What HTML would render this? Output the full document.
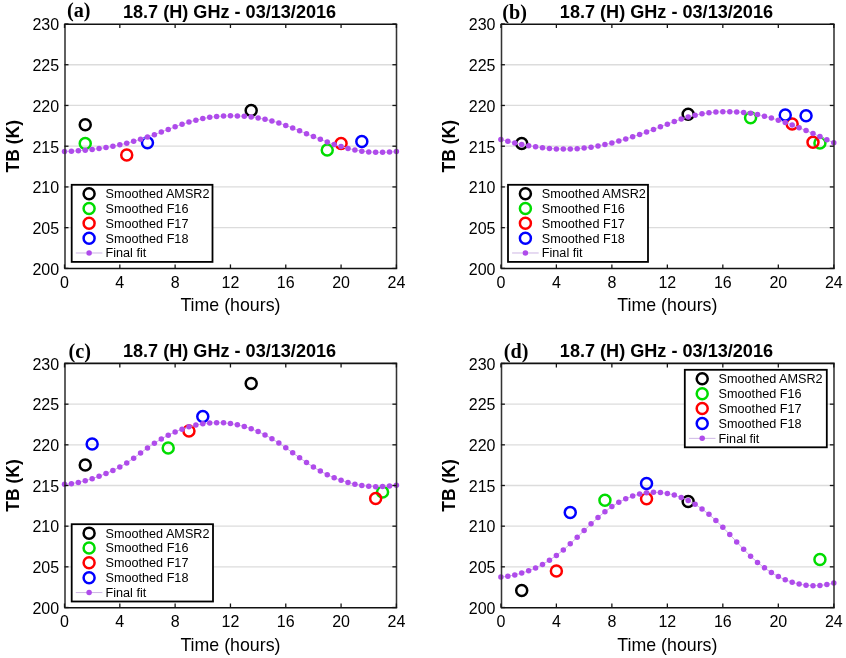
<!DOCTYPE html>
<html><head><meta charset="utf-8"><style>
html,body{margin:0;padding:0;background:#fff;}
svg{display:block;will-change:transform;}
text{font-family:"Liberation Sans", sans-serif;fill:#000;}
</style></head><body>
<svg width="846" height="658" viewBox="0 0 846 658">
<rect width="846" height="658" fill="#fff"/>
<line x1="64.5" y1="227.67" x2="396.4" y2="227.67" stroke="#DCDCDC" stroke-width="1.3"/>
<line x1="64.5" y1="186.93" x2="396.4" y2="186.93" stroke="#DCDCDC" stroke-width="1.3"/>
<line x1="64.5" y1="146.2" x2="396.4" y2="146.2" stroke="#DCDCDC" stroke-width="1.3"/>
<line x1="64.5" y1="105.47" x2="396.4" y2="105.47" stroke="#DCDCDC" stroke-width="1.3"/>
<line x1="64.5" y1="64.73" x2="396.4" y2="64.73" stroke="#DCDCDC" stroke-width="1.3"/>
<circle cx="85.24" cy="124.8" r="5.5" fill="none" stroke="#000000" stroke-width="2.5"/>
<circle cx="251.19" cy="110.4" r="5.5" fill="none" stroke="#000000" stroke-width="2.5"/>
<circle cx="85.24" cy="143.4" r="5.5" fill="none" stroke="#00DC00" stroke-width="2.5"/>
<circle cx="327.25" cy="150" r="5.5" fill="none" stroke="#00DC00" stroke-width="2.5"/>
<circle cx="126.73" cy="155.1" r="5.5" fill="none" stroke="#FF0000" stroke-width="2.5"/>
<circle cx="341.08" cy="143.4" r="5.5" fill="none" stroke="#FF0000" stroke-width="2.5"/>
<circle cx="147.47" cy="142.7" r="5.5" fill="none" stroke="#0000FF" stroke-width="2.5"/>
<circle cx="361.83" cy="141.4" r="5.5" fill="none" stroke="#0000FF" stroke-width="2.5"/>
<polyline points="64.5,151.42 71.41,151.17 78.33,150.77 85.24,150.21 92.16,149.48 99.07,148.58 105.99,147.51 112.9,146.26 119.82,144.82 126.73,143.19 133.65,141.36 140.56,139.32 147.47,137.08 154.39,134.64 161.3,132.06 168.22,129.43 175.13,126.82 182.05,124.34 188.96,122.08 195.88,120.15 202.79,118.56 209.71,117.35 216.62,116.5 223.54,116.01 230.45,115.83 237.36,115.94 244.28,116.33 251.19,117.01 258.11,117.99 265.02,119.29 271.94,120.96 278.85,123.02 285.77,125.42 292.68,128.05 299.6,130.85 306.51,133.72 313.42,136.58 320.34,139.36 327.25,141.99 334.17,144.42 341.08,146.6 348,148.48 354.91,150 361.83,151.13 368.74,151.88 375.66,152.28 382.57,152.34 389.49,152.11 396.4,151.61" fill="none" stroke="rgb(205,182,228)" stroke-width="1"/>
<circle cx="64.5" cy="151.42" r="2.75" fill="rgb(175,75,235)"/>
<circle cx="71.41" cy="151.17" r="2.75" fill="rgb(175,75,235)"/>
<circle cx="78.33" cy="150.77" r="2.75" fill="rgb(175,75,235)"/>
<circle cx="85.24" cy="150.21" r="2.75" fill="rgb(175,75,235)"/>
<circle cx="92.16" cy="149.48" r="2.75" fill="rgb(175,75,235)"/>
<circle cx="99.07" cy="148.58" r="2.75" fill="rgb(175,75,235)"/>
<circle cx="105.99" cy="147.51" r="2.75" fill="rgb(175,75,235)"/>
<circle cx="112.9" cy="146.26" r="2.75" fill="rgb(175,75,235)"/>
<circle cx="119.82" cy="144.82" r="2.75" fill="rgb(175,75,235)"/>
<circle cx="126.73" cy="143.19" r="2.75" fill="rgb(175,75,235)"/>
<circle cx="133.65" cy="141.36" r="2.75" fill="rgb(175,75,235)"/>
<circle cx="140.56" cy="139.32" r="2.75" fill="rgb(175,75,235)"/>
<circle cx="147.47" cy="137.08" r="2.75" fill="rgb(175,75,235)"/>
<circle cx="154.39" cy="134.64" r="2.75" fill="rgb(175,75,235)"/>
<circle cx="161.3" cy="132.06" r="2.75" fill="rgb(175,75,235)"/>
<circle cx="168.22" cy="129.43" r="2.75" fill="rgb(175,75,235)"/>
<circle cx="175.13" cy="126.82" r="2.75" fill="rgb(175,75,235)"/>
<circle cx="182.05" cy="124.34" r="2.75" fill="rgb(175,75,235)"/>
<circle cx="188.96" cy="122.08" r="2.75" fill="rgb(175,75,235)"/>
<circle cx="195.88" cy="120.15" r="2.75" fill="rgb(175,75,235)"/>
<circle cx="202.79" cy="118.56" r="2.75" fill="rgb(175,75,235)"/>
<circle cx="209.71" cy="117.35" r="2.75" fill="rgb(175,75,235)"/>
<circle cx="216.62" cy="116.5" r="2.75" fill="rgb(175,75,235)"/>
<circle cx="223.54" cy="116.01" r="2.75" fill="rgb(175,75,235)"/>
<circle cx="230.45" cy="115.83" r="2.75" fill="rgb(175,75,235)"/>
<circle cx="237.36" cy="115.94" r="2.75" fill="rgb(175,75,235)"/>
<circle cx="244.28" cy="116.33" r="2.75" fill="rgb(175,75,235)"/>
<circle cx="251.19" cy="117.01" r="2.75" fill="rgb(175,75,235)"/>
<circle cx="258.11" cy="117.99" r="2.75" fill="rgb(175,75,235)"/>
<circle cx="265.02" cy="119.29" r="2.75" fill="rgb(175,75,235)"/>
<circle cx="271.94" cy="120.96" r="2.75" fill="rgb(175,75,235)"/>
<circle cx="278.85" cy="123.02" r="2.75" fill="rgb(175,75,235)"/>
<circle cx="285.77" cy="125.42" r="2.75" fill="rgb(175,75,235)"/>
<circle cx="292.68" cy="128.05" r="2.75" fill="rgb(175,75,235)"/>
<circle cx="299.6" cy="130.85" r="2.75" fill="rgb(175,75,235)"/>
<circle cx="306.51" cy="133.72" r="2.75" fill="rgb(175,75,235)"/>
<circle cx="313.42" cy="136.58" r="2.75" fill="rgb(175,75,235)"/>
<circle cx="320.34" cy="139.36" r="2.75" fill="rgb(175,75,235)"/>
<circle cx="327.25" cy="141.99" r="2.75" fill="rgb(175,75,235)"/>
<circle cx="334.17" cy="144.42" r="2.75" fill="rgb(175,75,235)"/>
<circle cx="341.08" cy="146.6" r="2.75" fill="rgb(175,75,235)"/>
<circle cx="348" cy="148.48" r="2.75" fill="rgb(175,75,235)"/>
<circle cx="354.91" cy="150" r="2.75" fill="rgb(175,75,235)"/>
<circle cx="361.83" cy="151.13" r="2.75" fill="rgb(175,75,235)"/>
<circle cx="368.74" cy="151.88" r="2.75" fill="rgb(175,75,235)"/>
<circle cx="375.66" cy="152.28" r="2.75" fill="rgb(175,75,235)"/>
<circle cx="382.57" cy="152.34" r="2.75" fill="rgb(175,75,235)"/>
<circle cx="389.49" cy="152.11" r="2.75" fill="rgb(175,75,235)"/>
<circle cx="396.4" cy="151.61" r="2.75" fill="rgb(175,75,235)"/>
<line x1="65" y1="24.3" x2="65" y2="268.5" stroke="#333" stroke-width="1.55"/>
<line x1="396.5" y1="24.3" x2="396.5" y2="268.5" stroke="#333" stroke-width="1.55"/>
<line x1="64.3" y1="24.3" x2="397.2" y2="24.3" stroke="#111" stroke-width="1.6"/>
<line x1="64.3" y1="268.5" x2="397.2" y2="268.5" stroke="#111" stroke-width="1.6"/>
<line x1="64.5" y1="268.4" x2="64.5" y2="264.4" stroke="#151515" stroke-width="1.3"/>
<line x1="64.5" y1="24" x2="64.5" y2="28" stroke="#151515" stroke-width="1.3"/>
<text x="64.5" y="288.2" text-anchor="middle" font-size="16">0</text>
<line x1="119.82" y1="268.4" x2="119.82" y2="264.4" stroke="#151515" stroke-width="1.3"/>
<line x1="119.82" y1="24" x2="119.82" y2="28" stroke="#151515" stroke-width="1.3"/>
<text x="119.82" y="288.2" text-anchor="middle" font-size="16">4</text>
<line x1="175.13" y1="268.4" x2="175.13" y2="264.4" stroke="#151515" stroke-width="1.3"/>
<line x1="175.13" y1="24" x2="175.13" y2="28" stroke="#151515" stroke-width="1.3"/>
<text x="175.13" y="288.2" text-anchor="middle" font-size="16">8</text>
<line x1="230.45" y1="268.4" x2="230.45" y2="264.4" stroke="#151515" stroke-width="1.3"/>
<line x1="230.45" y1="24" x2="230.45" y2="28" stroke="#151515" stroke-width="1.3"/>
<text x="230.45" y="288.2" text-anchor="middle" font-size="16">12</text>
<line x1="285.77" y1="268.4" x2="285.77" y2="264.4" stroke="#151515" stroke-width="1.3"/>
<line x1="285.77" y1="24" x2="285.77" y2="28" stroke="#151515" stroke-width="1.3"/>
<text x="285.77" y="288.2" text-anchor="middle" font-size="16">16</text>
<line x1="341.08" y1="268.4" x2="341.08" y2="264.4" stroke="#151515" stroke-width="1.3"/>
<line x1="341.08" y1="24" x2="341.08" y2="28" stroke="#151515" stroke-width="1.3"/>
<text x="341.08" y="288.2" text-anchor="middle" font-size="16">20</text>
<line x1="396.4" y1="268.4" x2="396.4" y2="264.4" stroke="#151515" stroke-width="1.3"/>
<line x1="396.4" y1="24" x2="396.4" y2="28" stroke="#151515" stroke-width="1.3"/>
<text x="396.4" y="288.2" text-anchor="middle" font-size="16">24</text>
<line x1="64.5" y1="268.4" x2="68.5" y2="268.4" stroke="#151515" stroke-width="1.3"/>
<line x1="396.4" y1="268.4" x2="392.4" y2="268.4" stroke="#151515" stroke-width="1.3"/>
<text x="59.1" y="274.7" text-anchor="end" font-size="16">200</text>
<line x1="64.5" y1="227.67" x2="68.5" y2="227.67" stroke="#151515" stroke-width="1.3"/>
<line x1="396.4" y1="227.67" x2="392.4" y2="227.67" stroke="#151515" stroke-width="1.3"/>
<text x="59.1" y="233.97" text-anchor="end" font-size="16">205</text>
<line x1="64.5" y1="186.93" x2="68.5" y2="186.93" stroke="#151515" stroke-width="1.3"/>
<line x1="396.4" y1="186.93" x2="392.4" y2="186.93" stroke="#151515" stroke-width="1.3"/>
<text x="59.1" y="193.23" text-anchor="end" font-size="16">210</text>
<line x1="64.5" y1="146.2" x2="68.5" y2="146.2" stroke="#151515" stroke-width="1.3"/>
<line x1="396.4" y1="146.2" x2="392.4" y2="146.2" stroke="#151515" stroke-width="1.3"/>
<text x="59.1" y="152.5" text-anchor="end" font-size="16">215</text>
<line x1="64.5" y1="105.47" x2="68.5" y2="105.47" stroke="#151515" stroke-width="1.3"/>
<line x1="396.4" y1="105.47" x2="392.4" y2="105.47" stroke="#151515" stroke-width="1.3"/>
<text x="59.1" y="111.77" text-anchor="end" font-size="16">220</text>
<line x1="64.5" y1="64.73" x2="68.5" y2="64.73" stroke="#151515" stroke-width="1.3"/>
<line x1="396.4" y1="64.73" x2="392.4" y2="64.73" stroke="#151515" stroke-width="1.3"/>
<text x="59.1" y="71.03" text-anchor="end" font-size="16">225</text>
<line x1="64.5" y1="24" x2="68.5" y2="24" stroke="#151515" stroke-width="1.3"/>
<line x1="396.4" y1="24" x2="392.4" y2="24" stroke="#151515" stroke-width="1.3"/>
<text x="59.1" y="30.3" text-anchor="end" font-size="16">230</text>
<text x="230.45" y="311.4" text-anchor="middle" font-size="17.8">Time (hours)</text>
<text transform="translate(18.5,146.2) rotate(-90)" text-anchor="middle" font-size="17.5" font-weight="bold">TB (K)</text>
<text x="229.55" y="17.6" text-anchor="middle" font-size="18.1" font-weight="bold">18.7 (H) GHz - 03/13/2016</text>
<text x="67" y="16.6" style='font-family:"Liberation Serif", serif;font-size:20.2px;font-weight:bold'>(a)</text>
<rect x="71.7" y="184.8" width="140.8" height="77.1" fill="#fff" stroke="#000" stroke-width="1.8"/>
<circle cx="89.1" cy="193.71" r="5.5" fill="none" stroke="#000000" stroke-width="2.5"/>
<text x="105.5" y="198.21" font-size="12.65">Smoothed AMSR2</text>
<circle cx="89.1" cy="208.53" r="5.5" fill="none" stroke="#00DC00" stroke-width="2.5"/>
<text x="105.5" y="213.03" font-size="12.65">Smoothed F16</text>
<circle cx="89.1" cy="223.35" r="5.5" fill="none" stroke="#FF0000" stroke-width="2.5"/>
<text x="105.5" y="227.85" font-size="12.65">Smoothed F17</text>
<circle cx="89.1" cy="238.17" r="5.5" fill="none" stroke="#0000FF" stroke-width="2.5"/>
<text x="105.5" y="242.67" font-size="12.65">Smoothed F18</text>
<line x1="75.8" y1="252.99" x2="102.4" y2="252.99" stroke="rgb(205,182,228)" stroke-width="1"/>
<circle cx="89.1" cy="252.99" r="2.75" fill="rgb(175,75,235)"/>
<text x="105.5" y="257.49" font-size="12.65">Final fit</text>
<line x1="500.9" y1="227.67" x2="833.8" y2="227.67" stroke="#DCDCDC" stroke-width="1.3"/>
<line x1="500.9" y1="186.93" x2="833.8" y2="186.93" stroke="#DCDCDC" stroke-width="1.3"/>
<line x1="500.9" y1="146.2" x2="833.8" y2="146.2" stroke="#DCDCDC" stroke-width="1.3"/>
<line x1="500.9" y1="105.47" x2="833.8" y2="105.47" stroke="#DCDCDC" stroke-width="1.3"/>
<line x1="500.9" y1="64.73" x2="833.8" y2="64.73" stroke="#DCDCDC" stroke-width="1.3"/>
<circle cx="521.71" cy="143.6" r="5.5" fill="none" stroke="#000000" stroke-width="2.5"/>
<circle cx="688.16" cy="114.3" r="5.5" fill="none" stroke="#000000" stroke-width="2.5"/>
<circle cx="750.57" cy="117.8" r="5.5" fill="none" stroke="#00DC00" stroke-width="2.5"/>
<circle cx="819.93" cy="143" r="5.5" fill="none" stroke="#00DC00" stroke-width="2.5"/>
<circle cx="792.19" cy="124" r="5.5" fill="none" stroke="#FF0000" stroke-width="2.5"/>
<circle cx="812.99" cy="142.2" r="5.5" fill="none" stroke="#FF0000" stroke-width="2.5"/>
<circle cx="785.25" cy="114.9" r="5.5" fill="none" stroke="#0000FF" stroke-width="2.5"/>
<circle cx="806.06" cy="115.7" r="5.5" fill="none" stroke="#0000FF" stroke-width="2.5"/>
<polyline points="500.9,139.51 507.84,141.3 514.77,142.94 521.71,144.42 528.64,145.73 535.58,146.84 542.51,147.74 549.45,148.43 556.38,148.89 563.32,149.09 570.25,149.04 577.19,148.72 584.12,148.1 591.06,147.2 598,146.01 604.93,144.57 611.87,142.9 618.8,141.03 625.74,138.98 632.67,136.76 639.61,134.42 646.54,131.97 653.48,129.43 660.41,126.82 667.35,124.19 674.29,121.56 681.22,119.07 688.16,116.89 695.09,115.14 702.03,113.79 708.96,112.79 715.9,112.1 722.83,111.71 729.77,111.64 736.7,111.88 743.64,112.46 750.57,113.37 757.51,114.62 764.45,116.19 771.38,118.04 778.32,120.15 785.25,122.49 792.19,125.03 799.12,127.74 806.06,130.59 812.99,133.55 819.93,136.59 826.86,139.68 833.8,142.8" fill="none" stroke="rgb(205,182,228)" stroke-width="1"/>
<circle cx="500.9" cy="139.51" r="2.75" fill="rgb(175,75,235)"/>
<circle cx="507.84" cy="141.3" r="2.75" fill="rgb(175,75,235)"/>
<circle cx="514.77" cy="142.94" r="2.75" fill="rgb(175,75,235)"/>
<circle cx="521.71" cy="144.42" r="2.75" fill="rgb(175,75,235)"/>
<circle cx="528.64" cy="145.73" r="2.75" fill="rgb(175,75,235)"/>
<circle cx="535.58" cy="146.84" r="2.75" fill="rgb(175,75,235)"/>
<circle cx="542.51" cy="147.74" r="2.75" fill="rgb(175,75,235)"/>
<circle cx="549.45" cy="148.43" r="2.75" fill="rgb(175,75,235)"/>
<circle cx="556.38" cy="148.89" r="2.75" fill="rgb(175,75,235)"/>
<circle cx="563.32" cy="149.09" r="2.75" fill="rgb(175,75,235)"/>
<circle cx="570.25" cy="149.04" r="2.75" fill="rgb(175,75,235)"/>
<circle cx="577.19" cy="148.72" r="2.75" fill="rgb(175,75,235)"/>
<circle cx="584.12" cy="148.1" r="2.75" fill="rgb(175,75,235)"/>
<circle cx="591.06" cy="147.2" r="2.75" fill="rgb(175,75,235)"/>
<circle cx="598" cy="146.01" r="2.75" fill="rgb(175,75,235)"/>
<circle cx="604.93" cy="144.57" r="2.75" fill="rgb(175,75,235)"/>
<circle cx="611.87" cy="142.9" r="2.75" fill="rgb(175,75,235)"/>
<circle cx="618.8" cy="141.03" r="2.75" fill="rgb(175,75,235)"/>
<circle cx="625.74" cy="138.98" r="2.75" fill="rgb(175,75,235)"/>
<circle cx="632.67" cy="136.76" r="2.75" fill="rgb(175,75,235)"/>
<circle cx="639.61" cy="134.42" r="2.75" fill="rgb(175,75,235)"/>
<circle cx="646.54" cy="131.97" r="2.75" fill="rgb(175,75,235)"/>
<circle cx="653.48" cy="129.43" r="2.75" fill="rgb(175,75,235)"/>
<circle cx="660.41" cy="126.82" r="2.75" fill="rgb(175,75,235)"/>
<circle cx="667.35" cy="124.19" r="2.75" fill="rgb(175,75,235)"/>
<circle cx="674.29" cy="121.56" r="2.75" fill="rgb(175,75,235)"/>
<circle cx="681.22" cy="119.07" r="2.75" fill="rgb(175,75,235)"/>
<circle cx="688.16" cy="116.89" r="2.75" fill="rgb(175,75,235)"/>
<circle cx="695.09" cy="115.14" r="2.75" fill="rgb(175,75,235)"/>
<circle cx="702.03" cy="113.79" r="2.75" fill="rgb(175,75,235)"/>
<circle cx="708.96" cy="112.79" r="2.75" fill="rgb(175,75,235)"/>
<circle cx="715.9" cy="112.1" r="2.75" fill="rgb(175,75,235)"/>
<circle cx="722.83" cy="111.71" r="2.75" fill="rgb(175,75,235)"/>
<circle cx="729.77" cy="111.64" r="2.75" fill="rgb(175,75,235)"/>
<circle cx="736.7" cy="111.88" r="2.75" fill="rgb(175,75,235)"/>
<circle cx="743.64" cy="112.46" r="2.75" fill="rgb(175,75,235)"/>
<circle cx="750.57" cy="113.37" r="2.75" fill="rgb(175,75,235)"/>
<circle cx="757.51" cy="114.62" r="2.75" fill="rgb(175,75,235)"/>
<circle cx="764.45" cy="116.19" r="2.75" fill="rgb(175,75,235)"/>
<circle cx="771.38" cy="118.04" r="2.75" fill="rgb(175,75,235)"/>
<circle cx="778.32" cy="120.15" r="2.75" fill="rgb(175,75,235)"/>
<circle cx="785.25" cy="122.49" r="2.75" fill="rgb(175,75,235)"/>
<circle cx="792.19" cy="125.03" r="2.75" fill="rgb(175,75,235)"/>
<circle cx="799.12" cy="127.74" r="2.75" fill="rgb(175,75,235)"/>
<circle cx="806.06" cy="130.59" r="2.75" fill="rgb(175,75,235)"/>
<circle cx="812.99" cy="133.55" r="2.75" fill="rgb(175,75,235)"/>
<circle cx="819.93" cy="136.59" r="2.75" fill="rgb(175,75,235)"/>
<circle cx="826.86" cy="139.68" r="2.75" fill="rgb(175,75,235)"/>
<circle cx="833.8" cy="142.8" r="2.75" fill="rgb(175,75,235)"/>
<line x1="501.5" y1="24.3" x2="501.5" y2="268.5" stroke="#333" stroke-width="1.55"/>
<line x1="834" y1="24.3" x2="834" y2="268.5" stroke="#333" stroke-width="1.55"/>
<line x1="500.8" y1="24.3" x2="834.7" y2="24.3" stroke="#111" stroke-width="1.6"/>
<line x1="500.8" y1="268.5" x2="834.7" y2="268.5" stroke="#111" stroke-width="1.6"/>
<line x1="500.9" y1="268.4" x2="500.9" y2="264.4" stroke="#151515" stroke-width="1.3"/>
<line x1="500.9" y1="24" x2="500.9" y2="28" stroke="#151515" stroke-width="1.3"/>
<text x="500.9" y="288.2" text-anchor="middle" font-size="16">0</text>
<line x1="556.38" y1="268.4" x2="556.38" y2="264.4" stroke="#151515" stroke-width="1.3"/>
<line x1="556.38" y1="24" x2="556.38" y2="28" stroke="#151515" stroke-width="1.3"/>
<text x="556.38" y="288.2" text-anchor="middle" font-size="16">4</text>
<line x1="611.87" y1="268.4" x2="611.87" y2="264.4" stroke="#151515" stroke-width="1.3"/>
<line x1="611.87" y1="24" x2="611.87" y2="28" stroke="#151515" stroke-width="1.3"/>
<text x="611.87" y="288.2" text-anchor="middle" font-size="16">8</text>
<line x1="667.35" y1="268.4" x2="667.35" y2="264.4" stroke="#151515" stroke-width="1.3"/>
<line x1="667.35" y1="24" x2="667.35" y2="28" stroke="#151515" stroke-width="1.3"/>
<text x="667.35" y="288.2" text-anchor="middle" font-size="16">12</text>
<line x1="722.83" y1="268.4" x2="722.83" y2="264.4" stroke="#151515" stroke-width="1.3"/>
<line x1="722.83" y1="24" x2="722.83" y2="28" stroke="#151515" stroke-width="1.3"/>
<text x="722.83" y="288.2" text-anchor="middle" font-size="16">16</text>
<line x1="778.32" y1="268.4" x2="778.32" y2="264.4" stroke="#151515" stroke-width="1.3"/>
<line x1="778.32" y1="24" x2="778.32" y2="28" stroke="#151515" stroke-width="1.3"/>
<text x="778.32" y="288.2" text-anchor="middle" font-size="16">20</text>
<line x1="833.8" y1="268.4" x2="833.8" y2="264.4" stroke="#151515" stroke-width="1.3"/>
<line x1="833.8" y1="24" x2="833.8" y2="28" stroke="#151515" stroke-width="1.3"/>
<text x="833.8" y="288.2" text-anchor="middle" font-size="16">24</text>
<line x1="500.9" y1="268.4" x2="504.9" y2="268.4" stroke="#151515" stroke-width="1.3"/>
<line x1="833.8" y1="268.4" x2="829.8" y2="268.4" stroke="#151515" stroke-width="1.3"/>
<text x="495.5" y="274.7" text-anchor="end" font-size="16">200</text>
<line x1="500.9" y1="227.67" x2="504.9" y2="227.67" stroke="#151515" stroke-width="1.3"/>
<line x1="833.8" y1="227.67" x2="829.8" y2="227.67" stroke="#151515" stroke-width="1.3"/>
<text x="495.5" y="233.97" text-anchor="end" font-size="16">205</text>
<line x1="500.9" y1="186.93" x2="504.9" y2="186.93" stroke="#151515" stroke-width="1.3"/>
<line x1="833.8" y1="186.93" x2="829.8" y2="186.93" stroke="#151515" stroke-width="1.3"/>
<text x="495.5" y="193.23" text-anchor="end" font-size="16">210</text>
<line x1="500.9" y1="146.2" x2="504.9" y2="146.2" stroke="#151515" stroke-width="1.3"/>
<line x1="833.8" y1="146.2" x2="829.8" y2="146.2" stroke="#151515" stroke-width="1.3"/>
<text x="495.5" y="152.5" text-anchor="end" font-size="16">215</text>
<line x1="500.9" y1="105.47" x2="504.9" y2="105.47" stroke="#151515" stroke-width="1.3"/>
<line x1="833.8" y1="105.47" x2="829.8" y2="105.47" stroke="#151515" stroke-width="1.3"/>
<text x="495.5" y="111.77" text-anchor="end" font-size="16">220</text>
<line x1="500.9" y1="64.73" x2="504.9" y2="64.73" stroke="#151515" stroke-width="1.3"/>
<line x1="833.8" y1="64.73" x2="829.8" y2="64.73" stroke="#151515" stroke-width="1.3"/>
<text x="495.5" y="71.03" text-anchor="end" font-size="16">225</text>
<line x1="500.9" y1="24" x2="504.9" y2="24" stroke="#151515" stroke-width="1.3"/>
<line x1="833.8" y1="24" x2="829.8" y2="24" stroke="#151515" stroke-width="1.3"/>
<text x="495.5" y="30.3" text-anchor="end" font-size="16">230</text>
<text x="667.35" y="311.4" text-anchor="middle" font-size="17.8">Time (hours)</text>
<text transform="translate(454.9,146.2) rotate(-90)" text-anchor="middle" font-size="17.5" font-weight="bold">TB (K)</text>
<text x="666.45" y="17.6" text-anchor="middle" font-size="18.1" font-weight="bold">18.7 (H) GHz - 03/13/2016</text>
<text x="502.3" y="18.6" style='font-family:"Liberation Serif", serif;font-size:20.2px;font-weight:bold'>(b)</text>
<rect x="508" y="184.8" width="140" height="77.1" fill="#fff" stroke="#000" stroke-width="1.8"/>
<circle cx="525.4" cy="193.71" r="5.5" fill="none" stroke="#000000" stroke-width="2.5"/>
<text x="541.8" y="198.21" font-size="12.65">Smoothed AMSR2</text>
<circle cx="525.4" cy="208.53" r="5.5" fill="none" stroke="#00DC00" stroke-width="2.5"/>
<text x="541.8" y="213.03" font-size="12.65">Smoothed F16</text>
<circle cx="525.4" cy="223.35" r="5.5" fill="none" stroke="#FF0000" stroke-width="2.5"/>
<text x="541.8" y="227.85" font-size="12.65">Smoothed F17</text>
<circle cx="525.4" cy="238.17" r="5.5" fill="none" stroke="#0000FF" stroke-width="2.5"/>
<text x="541.8" y="242.67" font-size="12.65">Smoothed F18</text>
<line x1="512.1" y1="252.99" x2="538.7" y2="252.99" stroke="rgb(205,182,228)" stroke-width="1"/>
<circle cx="525.4" cy="252.99" r="2.75" fill="rgb(175,75,235)"/>
<text x="541.8" y="257.49" font-size="12.65">Final fit</text>
<line x1="64.5" y1="566.83" x2="396.4" y2="566.83" stroke="#DCDCDC" stroke-width="1.3"/>
<line x1="64.5" y1="526.17" x2="396.4" y2="526.17" stroke="#DCDCDC" stroke-width="1.3"/>
<line x1="64.5" y1="485.5" x2="396.4" y2="485.5" stroke="#DCDCDC" stroke-width="1.3"/>
<line x1="64.5" y1="444.83" x2="396.4" y2="444.83" stroke="#DCDCDC" stroke-width="1.3"/>
<line x1="64.5" y1="404.17" x2="396.4" y2="404.17" stroke="#DCDCDC" stroke-width="1.3"/>
<circle cx="85.24" cy="464.9" r="5.5" fill="none" stroke="#000000" stroke-width="2.5"/>
<circle cx="251.19" cy="383.4" r="5.5" fill="none" stroke="#000000" stroke-width="2.5"/>
<circle cx="168.22" cy="448" r="5.5" fill="none" stroke="#00DC00" stroke-width="2.5"/>
<circle cx="382.57" cy="492" r="5.5" fill="none" stroke="#00DC00" stroke-width="2.5"/>
<circle cx="188.96" cy="431.1" r="5.5" fill="none" stroke="#FF0000" stroke-width="2.5"/>
<circle cx="375.66" cy="498.4" r="5.5" fill="none" stroke="#FF0000" stroke-width="2.5"/>
<circle cx="92.16" cy="444.1" r="5.5" fill="none" stroke="#0000FF" stroke-width="2.5"/>
<circle cx="202.79" cy="416.5" r="5.5" fill="none" stroke="#0000FF" stroke-width="2.5"/>
<polyline points="64.5,484.22 71.41,483.63 78.33,482.47 85.24,480.81 92.16,478.72 99.07,476.27 105.99,473.51 112.9,470.46 119.82,467 126.73,462.92 133.65,458.14 140.56,452.99 147.47,447.88 154.39,443.18 161.3,438.96 168.22,435.21 175.13,431.94 182.05,429.16 188.96,426.87 195.88,425.07 202.79,423.76 209.71,422.96 216.62,422.65 223.54,422.85 230.45,423.56 237.36,424.78 244.28,426.52 251.19,428.77 258.11,431.56 265.02,434.88 271.94,438.73 278.85,443.1 285.77,447.84 292.68,452.77 299.6,457.74 306.51,462.55 313.42,467.05 320.34,471.09 327.25,474.65 334.17,477.73 341.08,480.34 348,482.49 354.91,484.19 361.83,485.44 368.74,486.25 375.66,486.63 382.57,486.58 389.49,486.11 396.4,485.23" fill="none" stroke="rgb(205,182,228)" stroke-width="1"/>
<circle cx="64.5" cy="484.22" r="2.75" fill="rgb(175,75,235)"/>
<circle cx="71.41" cy="483.63" r="2.75" fill="rgb(175,75,235)"/>
<circle cx="78.33" cy="482.47" r="2.75" fill="rgb(175,75,235)"/>
<circle cx="85.24" cy="480.81" r="2.75" fill="rgb(175,75,235)"/>
<circle cx="92.16" cy="478.72" r="2.75" fill="rgb(175,75,235)"/>
<circle cx="99.07" cy="476.27" r="2.75" fill="rgb(175,75,235)"/>
<circle cx="105.99" cy="473.51" r="2.75" fill="rgb(175,75,235)"/>
<circle cx="112.9" cy="470.46" r="2.75" fill="rgb(175,75,235)"/>
<circle cx="119.82" cy="467" r="2.75" fill="rgb(175,75,235)"/>
<circle cx="126.73" cy="462.92" r="2.75" fill="rgb(175,75,235)"/>
<circle cx="133.65" cy="458.14" r="2.75" fill="rgb(175,75,235)"/>
<circle cx="140.56" cy="452.99" r="2.75" fill="rgb(175,75,235)"/>
<circle cx="147.47" cy="447.88" r="2.75" fill="rgb(175,75,235)"/>
<circle cx="154.39" cy="443.18" r="2.75" fill="rgb(175,75,235)"/>
<circle cx="161.3" cy="438.96" r="2.75" fill="rgb(175,75,235)"/>
<circle cx="168.22" cy="435.21" r="2.75" fill="rgb(175,75,235)"/>
<circle cx="175.13" cy="431.94" r="2.75" fill="rgb(175,75,235)"/>
<circle cx="182.05" cy="429.16" r="2.75" fill="rgb(175,75,235)"/>
<circle cx="188.96" cy="426.87" r="2.75" fill="rgb(175,75,235)"/>
<circle cx="195.88" cy="425.07" r="2.75" fill="rgb(175,75,235)"/>
<circle cx="202.79" cy="423.76" r="2.75" fill="rgb(175,75,235)"/>
<circle cx="209.71" cy="422.96" r="2.75" fill="rgb(175,75,235)"/>
<circle cx="216.62" cy="422.65" r="2.75" fill="rgb(175,75,235)"/>
<circle cx="223.54" cy="422.85" r="2.75" fill="rgb(175,75,235)"/>
<circle cx="230.45" cy="423.56" r="2.75" fill="rgb(175,75,235)"/>
<circle cx="237.36" cy="424.78" r="2.75" fill="rgb(175,75,235)"/>
<circle cx="244.28" cy="426.52" r="2.75" fill="rgb(175,75,235)"/>
<circle cx="251.19" cy="428.77" r="2.75" fill="rgb(175,75,235)"/>
<circle cx="258.11" cy="431.56" r="2.75" fill="rgb(175,75,235)"/>
<circle cx="265.02" cy="434.88" r="2.75" fill="rgb(175,75,235)"/>
<circle cx="271.94" cy="438.73" r="2.75" fill="rgb(175,75,235)"/>
<circle cx="278.85" cy="443.1" r="2.75" fill="rgb(175,75,235)"/>
<circle cx="285.77" cy="447.84" r="2.75" fill="rgb(175,75,235)"/>
<circle cx="292.68" cy="452.77" r="2.75" fill="rgb(175,75,235)"/>
<circle cx="299.6" cy="457.74" r="2.75" fill="rgb(175,75,235)"/>
<circle cx="306.51" cy="462.55" r="2.75" fill="rgb(175,75,235)"/>
<circle cx="313.42" cy="467.05" r="2.75" fill="rgb(175,75,235)"/>
<circle cx="320.34" cy="471.09" r="2.75" fill="rgb(175,75,235)"/>
<circle cx="327.25" cy="474.65" r="2.75" fill="rgb(175,75,235)"/>
<circle cx="334.17" cy="477.73" r="2.75" fill="rgb(175,75,235)"/>
<circle cx="341.08" cy="480.34" r="2.75" fill="rgb(175,75,235)"/>
<circle cx="348" cy="482.49" r="2.75" fill="rgb(175,75,235)"/>
<circle cx="354.91" cy="484.19" r="2.75" fill="rgb(175,75,235)"/>
<circle cx="361.83" cy="485.44" r="2.75" fill="rgb(175,75,235)"/>
<circle cx="368.74" cy="486.25" r="2.75" fill="rgb(175,75,235)"/>
<circle cx="375.66" cy="486.63" r="2.75" fill="rgb(175,75,235)"/>
<circle cx="382.57" cy="486.58" r="2.75" fill="rgb(175,75,235)"/>
<circle cx="389.49" cy="486.11" r="2.75" fill="rgb(175,75,235)"/>
<circle cx="396.4" cy="485.23" r="2.75" fill="rgb(175,75,235)"/>
<line x1="65" y1="363.4" x2="65" y2="607.75" stroke="#333" stroke-width="1.55"/>
<line x1="396.5" y1="363.4" x2="396.5" y2="607.75" stroke="#333" stroke-width="1.55"/>
<line x1="64.3" y1="363.4" x2="397.2" y2="363.4" stroke="#111" stroke-width="1.6"/>
<line x1="64.3" y1="607.75" x2="397.2" y2="607.75" stroke="#111" stroke-width="1.6"/>
<line x1="64.5" y1="607.5" x2="64.5" y2="603.5" stroke="#151515" stroke-width="1.3"/>
<line x1="64.5" y1="363.5" x2="64.5" y2="367.5" stroke="#151515" stroke-width="1.3"/>
<text x="64.5" y="627.3" text-anchor="middle" font-size="16">0</text>
<line x1="119.82" y1="607.5" x2="119.82" y2="603.5" stroke="#151515" stroke-width="1.3"/>
<line x1="119.82" y1="363.5" x2="119.82" y2="367.5" stroke="#151515" stroke-width="1.3"/>
<text x="119.82" y="627.3" text-anchor="middle" font-size="16">4</text>
<line x1="175.13" y1="607.5" x2="175.13" y2="603.5" stroke="#151515" stroke-width="1.3"/>
<line x1="175.13" y1="363.5" x2="175.13" y2="367.5" stroke="#151515" stroke-width="1.3"/>
<text x="175.13" y="627.3" text-anchor="middle" font-size="16">8</text>
<line x1="230.45" y1="607.5" x2="230.45" y2="603.5" stroke="#151515" stroke-width="1.3"/>
<line x1="230.45" y1="363.5" x2="230.45" y2="367.5" stroke="#151515" stroke-width="1.3"/>
<text x="230.45" y="627.3" text-anchor="middle" font-size="16">12</text>
<line x1="285.77" y1="607.5" x2="285.77" y2="603.5" stroke="#151515" stroke-width="1.3"/>
<line x1="285.77" y1="363.5" x2="285.77" y2="367.5" stroke="#151515" stroke-width="1.3"/>
<text x="285.77" y="627.3" text-anchor="middle" font-size="16">16</text>
<line x1="341.08" y1="607.5" x2="341.08" y2="603.5" stroke="#151515" stroke-width="1.3"/>
<line x1="341.08" y1="363.5" x2="341.08" y2="367.5" stroke="#151515" stroke-width="1.3"/>
<text x="341.08" y="627.3" text-anchor="middle" font-size="16">20</text>
<line x1="396.4" y1="607.5" x2="396.4" y2="603.5" stroke="#151515" stroke-width="1.3"/>
<line x1="396.4" y1="363.5" x2="396.4" y2="367.5" stroke="#151515" stroke-width="1.3"/>
<text x="396.4" y="627.3" text-anchor="middle" font-size="16">24</text>
<line x1="64.5" y1="607.5" x2="68.5" y2="607.5" stroke="#151515" stroke-width="1.3"/>
<line x1="396.4" y1="607.5" x2="392.4" y2="607.5" stroke="#151515" stroke-width="1.3"/>
<text x="59.1" y="613.8" text-anchor="end" font-size="16">200</text>
<line x1="64.5" y1="566.83" x2="68.5" y2="566.83" stroke="#151515" stroke-width="1.3"/>
<line x1="396.4" y1="566.83" x2="392.4" y2="566.83" stroke="#151515" stroke-width="1.3"/>
<text x="59.1" y="573.13" text-anchor="end" font-size="16">205</text>
<line x1="64.5" y1="526.17" x2="68.5" y2="526.17" stroke="#151515" stroke-width="1.3"/>
<line x1="396.4" y1="526.17" x2="392.4" y2="526.17" stroke="#151515" stroke-width="1.3"/>
<text x="59.1" y="532.47" text-anchor="end" font-size="16">210</text>
<line x1="64.5" y1="485.5" x2="68.5" y2="485.5" stroke="#151515" stroke-width="1.3"/>
<line x1="396.4" y1="485.5" x2="392.4" y2="485.5" stroke="#151515" stroke-width="1.3"/>
<text x="59.1" y="491.8" text-anchor="end" font-size="16">215</text>
<line x1="64.5" y1="444.83" x2="68.5" y2="444.83" stroke="#151515" stroke-width="1.3"/>
<line x1="396.4" y1="444.83" x2="392.4" y2="444.83" stroke="#151515" stroke-width="1.3"/>
<text x="59.1" y="451.13" text-anchor="end" font-size="16">220</text>
<line x1="64.5" y1="404.17" x2="68.5" y2="404.17" stroke="#151515" stroke-width="1.3"/>
<line x1="396.4" y1="404.17" x2="392.4" y2="404.17" stroke="#151515" stroke-width="1.3"/>
<text x="59.1" y="410.47" text-anchor="end" font-size="16">225</text>
<line x1="64.5" y1="363.5" x2="68.5" y2="363.5" stroke="#151515" stroke-width="1.3"/>
<line x1="396.4" y1="363.5" x2="392.4" y2="363.5" stroke="#151515" stroke-width="1.3"/>
<text x="59.1" y="369.8" text-anchor="end" font-size="16">230</text>
<text x="230.45" y="650.5" text-anchor="middle" font-size="17.8">Time (hours)</text>
<text transform="translate(18.5,485.5) rotate(-90)" text-anchor="middle" font-size="17.5" font-weight="bold">TB (K)</text>
<text x="229.55" y="357.1" text-anchor="middle" font-size="18.1" font-weight="bold">18.7 (H) GHz - 03/13/2016</text>
<text x="68.5" y="357.6" style='font-family:"Liberation Serif", serif;font-size:20.2px;font-weight:bold'>(c)</text>
<rect x="71.7" y="524.2" width="141.3" height="77.3" fill="#fff" stroke="#000" stroke-width="1.8"/>
<circle cx="89.1" cy="533.13" r="5.5" fill="none" stroke="#000000" stroke-width="2.5"/>
<text x="105.5" y="537.63" font-size="12.65">Smoothed AMSR2</text>
<circle cx="89.1" cy="547.99" r="5.5" fill="none" stroke="#00DC00" stroke-width="2.5"/>
<text x="105.5" y="552.49" font-size="12.65">Smoothed F16</text>
<circle cx="89.1" cy="562.85" r="5.5" fill="none" stroke="#FF0000" stroke-width="2.5"/>
<text x="105.5" y="567.35" font-size="12.65">Smoothed F17</text>
<circle cx="89.1" cy="577.71" r="5.5" fill="none" stroke="#0000FF" stroke-width="2.5"/>
<text x="105.5" y="582.21" font-size="12.65">Smoothed F18</text>
<line x1="75.8" y1="592.57" x2="102.4" y2="592.57" stroke="rgb(205,182,228)" stroke-width="1"/>
<circle cx="89.1" cy="592.57" r="2.75" fill="rgb(175,75,235)"/>
<text x="105.5" y="597.07" font-size="12.65">Final fit</text>
<line x1="500.9" y1="566.83" x2="833.8" y2="566.83" stroke="#DCDCDC" stroke-width="1.3"/>
<line x1="500.9" y1="526.17" x2="833.8" y2="526.17" stroke="#DCDCDC" stroke-width="1.3"/>
<line x1="500.9" y1="485.5" x2="833.8" y2="485.5" stroke="#DCDCDC" stroke-width="1.3"/>
<line x1="500.9" y1="444.83" x2="833.8" y2="444.83" stroke="#DCDCDC" stroke-width="1.3"/>
<line x1="500.9" y1="404.17" x2="833.8" y2="404.17" stroke="#DCDCDC" stroke-width="1.3"/>
<circle cx="521.71" cy="590.4" r="5.5" fill="none" stroke="#000000" stroke-width="2.5"/>
<circle cx="688.16" cy="501.6" r="5.5" fill="none" stroke="#000000" stroke-width="2.5"/>
<circle cx="604.93" cy="500.3" r="5.5" fill="none" stroke="#00DC00" stroke-width="2.5"/>
<circle cx="819.93" cy="559.4" r="5.5" fill="none" stroke="#00DC00" stroke-width="2.5"/>
<circle cx="556.38" cy="571.1" r="5.5" fill="none" stroke="#FF0000" stroke-width="2.5"/>
<circle cx="646.54" cy="498.8" r="5.5" fill="none" stroke="#FF0000" stroke-width="2.5"/>
<circle cx="570.25" cy="512.5" r="5.5" fill="none" stroke="#0000FF" stroke-width="2.5"/>
<circle cx="646.54" cy="483.4" r="5.5" fill="none" stroke="#0000FF" stroke-width="2.5"/>
<polyline points="500.9,577.11 507.84,576.21 514.77,574.89 521.71,573.1 528.64,570.8 535.58,567.92 542.51,564.43 549.45,560.27 556.38,555.45 563.32,549.94 570.25,543.8 577.19,537.24 584.12,530.51 591.06,523.86 598,517.51 604.93,511.7 611.87,506.6 618.8,502.28 625.74,498.76 632.67,496.01 639.61,494.03 646.54,492.81 653.48,492.32 660.41,492.55 667.35,493.48 674.29,495.11 681.22,497.44 688.16,500.51 695.09,504.33 702.03,508.93 708.96,514.32 715.9,520.49 722.83,527.29 729.77,534.52 736.7,541.96 743.64,549.31 750.57,556.23 757.51,562.43 764.45,567.87 771.38,572.57 778.32,576.53 785.25,579.76 792.19,582.28 799.12,584.1 806.06,585.22 812.99,585.67 819.93,585.46 826.86,584.6 833.8,583.1" fill="none" stroke="rgb(205,182,228)" stroke-width="1"/>
<circle cx="500.9" cy="577.11" r="2.75" fill="rgb(175,75,235)"/>
<circle cx="507.84" cy="576.21" r="2.75" fill="rgb(175,75,235)"/>
<circle cx="514.77" cy="574.89" r="2.75" fill="rgb(175,75,235)"/>
<circle cx="521.71" cy="573.1" r="2.75" fill="rgb(175,75,235)"/>
<circle cx="528.64" cy="570.8" r="2.75" fill="rgb(175,75,235)"/>
<circle cx="535.58" cy="567.92" r="2.75" fill="rgb(175,75,235)"/>
<circle cx="542.51" cy="564.43" r="2.75" fill="rgb(175,75,235)"/>
<circle cx="549.45" cy="560.27" r="2.75" fill="rgb(175,75,235)"/>
<circle cx="556.38" cy="555.45" r="2.75" fill="rgb(175,75,235)"/>
<circle cx="563.32" cy="549.94" r="2.75" fill="rgb(175,75,235)"/>
<circle cx="570.25" cy="543.8" r="2.75" fill="rgb(175,75,235)"/>
<circle cx="577.19" cy="537.24" r="2.75" fill="rgb(175,75,235)"/>
<circle cx="584.12" cy="530.51" r="2.75" fill="rgb(175,75,235)"/>
<circle cx="591.06" cy="523.86" r="2.75" fill="rgb(175,75,235)"/>
<circle cx="598" cy="517.51" r="2.75" fill="rgb(175,75,235)"/>
<circle cx="604.93" cy="511.7" r="2.75" fill="rgb(175,75,235)"/>
<circle cx="611.87" cy="506.6" r="2.75" fill="rgb(175,75,235)"/>
<circle cx="618.8" cy="502.28" r="2.75" fill="rgb(175,75,235)"/>
<circle cx="625.74" cy="498.76" r="2.75" fill="rgb(175,75,235)"/>
<circle cx="632.67" cy="496.01" r="2.75" fill="rgb(175,75,235)"/>
<circle cx="639.61" cy="494.03" r="2.75" fill="rgb(175,75,235)"/>
<circle cx="646.54" cy="492.81" r="2.75" fill="rgb(175,75,235)"/>
<circle cx="653.48" cy="492.32" r="2.75" fill="rgb(175,75,235)"/>
<circle cx="660.41" cy="492.55" r="2.75" fill="rgb(175,75,235)"/>
<circle cx="667.35" cy="493.48" r="2.75" fill="rgb(175,75,235)"/>
<circle cx="674.29" cy="495.11" r="2.75" fill="rgb(175,75,235)"/>
<circle cx="681.22" cy="497.44" r="2.75" fill="rgb(175,75,235)"/>
<circle cx="688.16" cy="500.51" r="2.75" fill="rgb(175,75,235)"/>
<circle cx="695.09" cy="504.33" r="2.75" fill="rgb(175,75,235)"/>
<circle cx="702.03" cy="508.93" r="2.75" fill="rgb(175,75,235)"/>
<circle cx="708.96" cy="514.32" r="2.75" fill="rgb(175,75,235)"/>
<circle cx="715.9" cy="520.49" r="2.75" fill="rgb(175,75,235)"/>
<circle cx="722.83" cy="527.29" r="2.75" fill="rgb(175,75,235)"/>
<circle cx="729.77" cy="534.52" r="2.75" fill="rgb(175,75,235)"/>
<circle cx="736.7" cy="541.96" r="2.75" fill="rgb(175,75,235)"/>
<circle cx="743.64" cy="549.31" r="2.75" fill="rgb(175,75,235)"/>
<circle cx="750.57" cy="556.23" r="2.75" fill="rgb(175,75,235)"/>
<circle cx="757.51" cy="562.43" r="2.75" fill="rgb(175,75,235)"/>
<circle cx="764.45" cy="567.87" r="2.75" fill="rgb(175,75,235)"/>
<circle cx="771.38" cy="572.57" r="2.75" fill="rgb(175,75,235)"/>
<circle cx="778.32" cy="576.53" r="2.75" fill="rgb(175,75,235)"/>
<circle cx="785.25" cy="579.76" r="2.75" fill="rgb(175,75,235)"/>
<circle cx="792.19" cy="582.28" r="2.75" fill="rgb(175,75,235)"/>
<circle cx="799.12" cy="584.1" r="2.75" fill="rgb(175,75,235)"/>
<circle cx="806.06" cy="585.22" r="2.75" fill="rgb(175,75,235)"/>
<circle cx="812.99" cy="585.67" r="2.75" fill="rgb(175,75,235)"/>
<circle cx="819.93" cy="585.46" r="2.75" fill="rgb(175,75,235)"/>
<circle cx="826.86" cy="584.6" r="2.75" fill="rgb(175,75,235)"/>
<circle cx="833.8" cy="583.1" r="2.75" fill="rgb(175,75,235)"/>
<line x1="501.5" y1="363.4" x2="501.5" y2="607.75" stroke="#333" stroke-width="1.55"/>
<line x1="834" y1="363.4" x2="834" y2="607.75" stroke="#333" stroke-width="1.55"/>
<line x1="500.8" y1="363.4" x2="834.7" y2="363.4" stroke="#111" stroke-width="1.6"/>
<line x1="500.8" y1="607.75" x2="834.7" y2="607.75" stroke="#111" stroke-width="1.6"/>
<line x1="500.9" y1="607.5" x2="500.9" y2="603.5" stroke="#151515" stroke-width="1.3"/>
<line x1="500.9" y1="363.5" x2="500.9" y2="367.5" stroke="#151515" stroke-width="1.3"/>
<text x="500.9" y="627.3" text-anchor="middle" font-size="16">0</text>
<line x1="556.38" y1="607.5" x2="556.38" y2="603.5" stroke="#151515" stroke-width="1.3"/>
<line x1="556.38" y1="363.5" x2="556.38" y2="367.5" stroke="#151515" stroke-width="1.3"/>
<text x="556.38" y="627.3" text-anchor="middle" font-size="16">4</text>
<line x1="611.87" y1="607.5" x2="611.87" y2="603.5" stroke="#151515" stroke-width="1.3"/>
<line x1="611.87" y1="363.5" x2="611.87" y2="367.5" stroke="#151515" stroke-width="1.3"/>
<text x="611.87" y="627.3" text-anchor="middle" font-size="16">8</text>
<line x1="667.35" y1="607.5" x2="667.35" y2="603.5" stroke="#151515" stroke-width="1.3"/>
<line x1="667.35" y1="363.5" x2="667.35" y2="367.5" stroke="#151515" stroke-width="1.3"/>
<text x="667.35" y="627.3" text-anchor="middle" font-size="16">12</text>
<line x1="722.83" y1="607.5" x2="722.83" y2="603.5" stroke="#151515" stroke-width="1.3"/>
<line x1="722.83" y1="363.5" x2="722.83" y2="367.5" stroke="#151515" stroke-width="1.3"/>
<text x="722.83" y="627.3" text-anchor="middle" font-size="16">16</text>
<line x1="778.32" y1="607.5" x2="778.32" y2="603.5" stroke="#151515" stroke-width="1.3"/>
<line x1="778.32" y1="363.5" x2="778.32" y2="367.5" stroke="#151515" stroke-width="1.3"/>
<text x="778.32" y="627.3" text-anchor="middle" font-size="16">20</text>
<line x1="833.8" y1="607.5" x2="833.8" y2="603.5" stroke="#151515" stroke-width="1.3"/>
<line x1="833.8" y1="363.5" x2="833.8" y2="367.5" stroke="#151515" stroke-width="1.3"/>
<text x="833.8" y="627.3" text-anchor="middle" font-size="16">24</text>
<line x1="500.9" y1="607.5" x2="504.9" y2="607.5" stroke="#151515" stroke-width="1.3"/>
<line x1="833.8" y1="607.5" x2="829.8" y2="607.5" stroke="#151515" stroke-width="1.3"/>
<text x="495.5" y="613.8" text-anchor="end" font-size="16">200</text>
<line x1="500.9" y1="566.83" x2="504.9" y2="566.83" stroke="#151515" stroke-width="1.3"/>
<line x1="833.8" y1="566.83" x2="829.8" y2="566.83" stroke="#151515" stroke-width="1.3"/>
<text x="495.5" y="573.13" text-anchor="end" font-size="16">205</text>
<line x1="500.9" y1="526.17" x2="504.9" y2="526.17" stroke="#151515" stroke-width="1.3"/>
<line x1="833.8" y1="526.17" x2="829.8" y2="526.17" stroke="#151515" stroke-width="1.3"/>
<text x="495.5" y="532.47" text-anchor="end" font-size="16">210</text>
<line x1="500.9" y1="485.5" x2="504.9" y2="485.5" stroke="#151515" stroke-width="1.3"/>
<line x1="833.8" y1="485.5" x2="829.8" y2="485.5" stroke="#151515" stroke-width="1.3"/>
<text x="495.5" y="491.8" text-anchor="end" font-size="16">215</text>
<line x1="500.9" y1="444.83" x2="504.9" y2="444.83" stroke="#151515" stroke-width="1.3"/>
<line x1="833.8" y1="444.83" x2="829.8" y2="444.83" stroke="#151515" stroke-width="1.3"/>
<text x="495.5" y="451.13" text-anchor="end" font-size="16">220</text>
<line x1="500.9" y1="404.17" x2="504.9" y2="404.17" stroke="#151515" stroke-width="1.3"/>
<line x1="833.8" y1="404.17" x2="829.8" y2="404.17" stroke="#151515" stroke-width="1.3"/>
<text x="495.5" y="410.47" text-anchor="end" font-size="16">225</text>
<line x1="500.9" y1="363.5" x2="504.9" y2="363.5" stroke="#151515" stroke-width="1.3"/>
<line x1="833.8" y1="363.5" x2="829.8" y2="363.5" stroke="#151515" stroke-width="1.3"/>
<text x="495.5" y="369.8" text-anchor="end" font-size="16">230</text>
<text x="667.35" y="650.5" text-anchor="middle" font-size="17.8">Time (hours)</text>
<text transform="translate(454.9,485.5) rotate(-90)" text-anchor="middle" font-size="17.5" font-weight="bold">TB (K)</text>
<text x="666.45" y="357.1" text-anchor="middle" font-size="18.1" font-weight="bold">18.7 (H) GHz - 03/13/2016</text>
<text x="503.8" y="357.6" style='font-family:"Liberation Serif", serif;font-size:20.2px;font-weight:bold'>(d)</text>
<rect x="684.8" y="369.8" width="142" height="77.5" fill="#fff" stroke="#000" stroke-width="1.8"/>
<circle cx="702.2" cy="378.75" r="5.5" fill="none" stroke="#000000" stroke-width="2.5"/>
<text x="718.6" y="383.25" font-size="12.65">Smoothed AMSR2</text>
<circle cx="702.2" cy="393.65" r="5.5" fill="none" stroke="#00DC00" stroke-width="2.5"/>
<text x="718.6" y="398.15" font-size="12.65">Smoothed F16</text>
<circle cx="702.2" cy="408.55" r="5.5" fill="none" stroke="#FF0000" stroke-width="2.5"/>
<text x="718.6" y="413.05" font-size="12.65">Smoothed F17</text>
<circle cx="702.2" cy="423.45" r="5.5" fill="none" stroke="#0000FF" stroke-width="2.5"/>
<text x="718.6" y="427.95" font-size="12.65">Smoothed F18</text>
<line x1="688.9" y1="438.35" x2="715.5" y2="438.35" stroke="rgb(205,182,228)" stroke-width="1"/>
<circle cx="702.2" cy="438.35" r="2.75" fill="rgb(175,75,235)"/>
<text x="718.6" y="442.85" font-size="12.65">Final fit</text>
</svg>
</body></html>
